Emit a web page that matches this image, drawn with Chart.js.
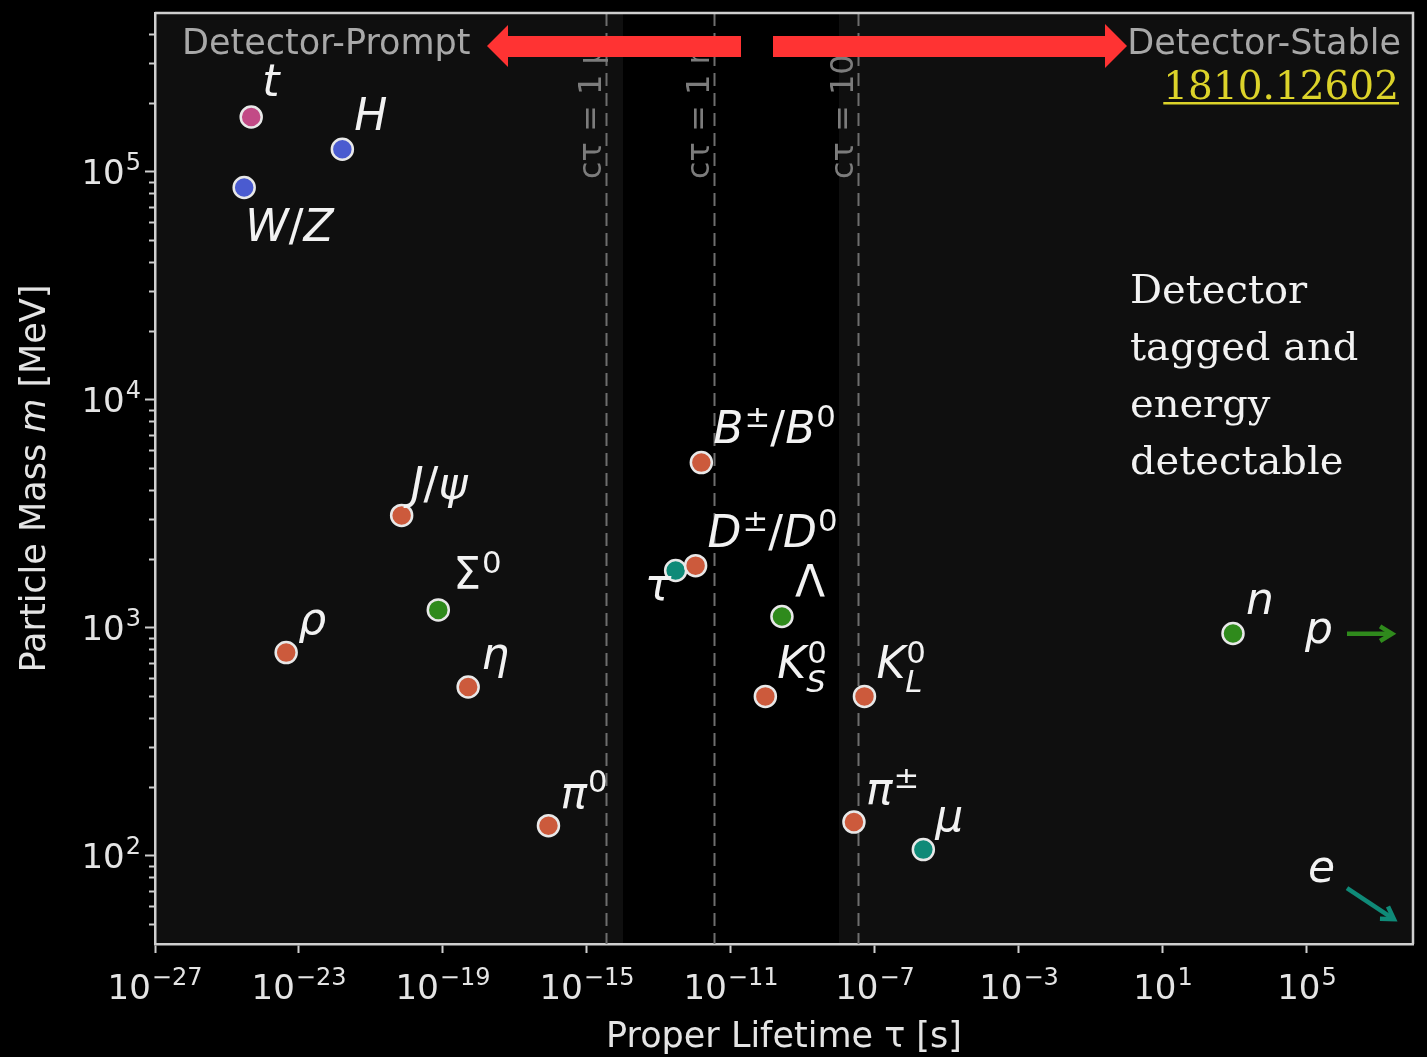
<!DOCTYPE html>
<html>
<head>
<meta charset="utf-8">
<script src="https://cdn.jsdelivr.net/npm/chart.js@4/dist/chart.umd.min.js"></script>
<style>
  html, body { margin: 0; padding: 0; background: #000; }
  canvas { display: block; }
</style>
</head>
<body>
<canvas id="chart" width="1427" height="1057"></canvas>
<script>
// Particle catalogue: proper lifetime (s) against mass (MeV)
const particles = ['t', 'H', 'W/Z', 'ρ', 'J/ψ', 'Σ^{0}', 'η', 'π^{0}', 'τ', 'D^{±}/D^{0}', 'B^{±}/B^{0}', 'Λ', 'K^{0}_{S}', 'K^{0}_{L}', 'π^{±}', 'μ', 'n'];
const lifetimes = [4.7e-25, 1.6e-22, 3.0e-25, 4.4e-24, 7.1e-21, 7.4e-20, 5.0e-19, 8.5e-17, 2.9e-13, 1.04e-12, 1.5e-12, 2.6e-10, 9.0e-11, 5.1e-8, 2.6e-8, 2.2e-6, 880];
const masses = [173000, 125000, 85000, 775, 3097, 1193, 548, 135, 1777, 1865, 5280, 1116, 498, 498, 140, 106, 940];
const families = ['top', 'boson', 'boson', 'meson', 'meson', 'baryon', 'meson', 'meson', 'lepton', 'meson', 'meson', 'baryon', 'meson', 'meson', 'meson', 'lepton', 'baryon'];

// Stable particles beyond the right edge of the axis
const offscaleNames = ['p', 'e'];
const offscaleFrom = [{ x: 1.29e6, y: 938 }, { x: 1.29e6, y: 71.8 }];
const offscaleTo = [{ x: 2.3e7, y: 938 }, { x: 2.6e7, y: 52.5 }];
const offscaleFamilies = ['baryon', 'lepton'];

// Axis ticks
const xTickValues = [1e-27, 1e-23, 1e-19, 1e-15, 1e-11, 1e-7, 1e-3, 1e1, 1e5];
const yTickValues = [1e2, 1e3, 1e4, 1e5];

// Decay-length reference lines (c·tau) and displaced-vertex band
const ctauValues = [3.336e-15, 3.336e-12, 3.336e-8];
const ctauLabels = ['cτ = 1 μm', 'cτ = 1 mm', 'cτ = 10 m'];
const displacedBand = [1e-14, 1e-8];

// ---- styling ----
const familyColors = {
  top: '#c24a86',
  boson: '#4a5bd0',
  meson: '#cc5a3c',
  baryon: '#2f8a1c',
  lepton: '#0f8a78'
};
// label placement relative to each marker (px: dx, baseline dy)
const labelOffsets = [
  [11, -21], [12, -19], [1, 54], [12, -19], [9, -16], [15, -21], [13, -18], [12, -18],
  [-31, 30], [12, -19], [12, -20], [13, -20], [12, -18], [12, -18], [12, -18], [12, -19], [13, -20]
];
const offscaleLabelOffsets = [[-42, 9], [-39, -6]];

const SANS = '"DejaVu Sans", "Liberation Sans", sans-serif';
const SERIF = '"DejaVu Serif", "Liberation Serif", serif';

// Draws math-style text: Latin / lowercase Greek italic, ^{..} superscript, _{..} subscript
function drawMath(ctx, spec, x, y, size, color) {
  const tokens = spec.match(/\^\{[^}]*\}|_\{[^}]*\}|[^^_]+/g) || [];
  const small = size * 0.7;
  let cx = x;
  ctx.fillStyle = color;
  ctx.textAlign = 'left';
  ctx.textBaseline = 'alphabetic';
  const runChars = (str, px, base, sz) => {
    let w = 0;
    for (const ch of str) {
      const it = /[A-Za-z\u03b1-\u03c9]/.test(ch);
      ctx.font = (it ? 'italic ' : '') + sz + 'px ' + SANS;
      ctx.fillText(ch, px + w, base);
      w += ctx.measureText(ch).width;
    }
    return w;
  };
  for (let i = 0; i < tokens.length; i++) {
    const tk = tokens[i];
    if (tk.startsWith('^{')) {
      const sup = tk.slice(2, -1);
      const next = tokens[i + 1];
      if (next && next.startsWith('_{')) {
        const sub = next.slice(2, -1);
        const w1 = runChars(sup, cx + 1, y - size * 0.36, small);
        const w2 = runChars(sub, cx, y + size * 0.3, small);
        cx += Math.max(w1, w2) + 1;
        i++;
      } else {
        cx += runChars(sup, cx + 1, y - size * 0.36, small) + 1;
      }
    } else if (tk.startsWith('_{')) {
      cx += runChars(tk.slice(2, -1), cx, y + size * 0.22, small);
    } else {
      cx += runChars(tk, cx, y, size);
    }
  }
}

// "10" with a raised exponent
function drawPower(ctx, value, x, y, align) {
  const exp = Math.round(Math.log10(value));
  const expStr = (exp < 0 ? '\u2212' : '') + Math.abs(exp);
  ctx.textBaseline = 'alphabetic';
  ctx.textAlign = 'left';
  ctx.font = '34px ' + SANS;
  const wBase = ctx.measureText('10').width;
  ctx.font = '24px ' + SANS;
  const wExp = ctx.measureText(expStr).width;
  const total = wBase + wExp + 1;
  let sx = align === 'center' ? x - total / 2 : x - total;
  ctx.fillStyle = '#e4e4e4';
  ctx.font = '34px ' + SANS;
  ctx.fillText('10', sx, y);
  ctx.font = '24px ' + SANS;
  ctx.fillText(expStr, sx + wBase + 1, y - 14);
}

function openArrow(ctx, x0, y0, x1, y1, color) {
  const ang = Math.atan2(y1 - y0, x1 - x0);
  const hl = 14, hw = 0.55;
  ctx.save();
  ctx.strokeStyle = color;
  ctx.lineWidth = 4.5;
  ctx.lineCap = 'butt';
  ctx.lineJoin = 'miter';
  ctx.beginPath();
  ctx.moveTo(x0, y0);
  ctx.lineTo(x1 - Math.cos(ang) * 2, y1 - Math.sin(ang) * 2);
  ctx.stroke();
  ctx.beginPath();
  ctx.moveTo(x1 - hl * Math.cos(ang - hw), y1 - hl * Math.sin(ang - hw));
  ctx.lineTo(x1, y1);
  ctx.lineTo(x1 - hl * Math.cos(ang + hw), y1 - hl * Math.sin(ang + hw));
  ctx.stroke();
  ctx.restore();
}

const decor = {
  id: 'decor',
  beforeDraw(chart) {
    const { ctx, chartArea: a } = chart;
    const xs = chart.scales.x;
    ctx.save();
    ctx.fillStyle = '#000';
    ctx.fillRect(0, 0, chart.width, chart.height);
    ctx.fillStyle = '#0f0f0f';
    ctx.fillRect(a.left, a.top, a.right - a.left, a.bottom - a.top);
    const b0 = xs.getPixelForValue(displacedBand[0]);
    const b1 = xs.getPixelForValue(displacedBand[1]);
    ctx.fillStyle = '#000';
    ctx.fillRect(b0, a.top, b1 - b0, a.bottom - a.top);
    ctx.restore();
  },
  beforeDatasetsDraw(chart) {
    const { ctx, chartArea: a } = chart;
    const xs = chart.scales.x;
    ctx.save();
    ctx.beginPath();
    ctx.rect(a.left, a.top, a.right - a.left, a.bottom - a.top);
    ctx.clip();
    ctauValues.forEach((v, i) => {
      const px = Math.round(xs.getPixelForValue(v)) + 0.5;
      ctx.strokeStyle = '#6e6e6e';
      ctx.lineWidth = 2;
      ctx.setLineDash([13, 7]);
      ctx.beginPath();
      ctx.moveTo(px, a.top);
      ctx.lineTo(px, a.bottom);
      ctx.stroke();
      ctx.setLineDash([]);
      ctx.save();
      ctx.beginPath();
      ctx.rect(a.left, 37, a.right - a.left, a.bottom - 37);
      ctx.clip();
      ctx.translate(px - 14, 179);
      ctx.rotate(-Math.PI / 2);
      ctx.font = '32px ' + SANS;
      ctx.fillStyle = '#7c7c7c';
      ctx.textAlign = 'left';
      ctx.textBaseline = 'middle';
      ctx.fillText(ctauLabels[i], 0, 0);
      ctx.restore();
    });
    ctx.restore();
  },
  afterDatasetsDraw(chart) {
    const { ctx } = chart;
    const xs = chart.scales.x, ys = chart.scales.y;
    ctx.save();
    particles.forEach((name, i) => {
      const px = xs.getPixelForValue(lifetimes[i]);
      const py = ys.getPixelForValue(masses[i]);
      drawMath(ctx, name, px + labelOffsets[i][0], py + labelOffsets[i][1], 44, '#f2f2f2');
    });
    offscaleNames.forEach((name, i) => {
      const x0 = xs.getPixelForValue(offscaleFrom[i].x), y0 = ys.getPixelForValue(offscaleFrom[i].y);
      const x1 = xs.getPixelForValue(offscaleTo[i].x), y1 = ys.getPixelForValue(offscaleTo[i].y);
      openArrow(ctx, x0, y0, x1, y1, familyColors[offscaleFamilies[i]]);
      drawMath(ctx, name, x0 + offscaleLabelOffsets[i][0], y0 + offscaleLabelOffsets[i][1], 44, '#f2f2f2');
    });
    ctx.restore();
  },
  afterDraw(chart) {
    const { ctx, chartArea: a } = chart;
    const xs = chart.scales.x, ys = chart.scales.y;
    ctx.save();
    // top and right frame lines
    ctx.strokeStyle = '#cfcfcf';
    ctx.lineWidth = 2.5;
    ctx.beginPath();
    ctx.moveTo(a.left, a.top);
    ctx.lineTo(a.right, a.top);
    ctx.lineTo(a.right, a.bottom);
    ctx.stroke();

    // minor log ticks on the mass axis
    ctx.strokeStyle = '#cfcfcf';
    ctx.lineWidth = 2;
    for (let d = 1; d <= 5; d++) {
      for (let k = 2; k <= 9; k++) {
        const v = k * Math.pow(10, d);
        if (v < ys.min || v > ys.max) continue;
        const py = Math.round(ys.getPixelForValue(v)) + 0.5;
        ctx.beginPath();
        ctx.moveTo(a.left, py);
        ctx.lineTo(a.left - 6, py);
        ctx.stroke();
      }
    }

    // tick labels
    xTickValues.forEach(v => drawPower(ctx, v, xs.getPixelForValue(v), 999, 'center'));
    yTickValues.forEach(v => drawPower(ctx, v, 141, ys.getPixelForValue(v) + 13, 'right'));

    // axis titles
    ctx.fillStyle = '#e4e4e4';
    ctx.textBaseline = 'alphabetic';
    ctx.textAlign = 'center';
    ctx.font = '35px ' + SANS;
    ctx.fillText('Proper Lifetime τ [s]', (a.left + a.right) / 2, 1047);

    ctx.save();
    ctx.translate(45, (a.top + a.bottom) / 2);
    ctx.rotate(-Math.PI / 2);
    const parts = [['Particle Mass ', ''], ['m', 'italic '], [' [MeV]', '']];
    let tw = 0;
    parts.forEach(p => { ctx.font = p[1] + '35px ' + SANS; tw += ctx.measureText(p[0]).width; });
    let cx = -tw / 2;
    ctx.textAlign = 'left';
    parts.forEach(p => { ctx.font = p[1] + '35px ' + SANS; ctx.fillText(p[0], cx, 0); cx += ctx.measureText(p[0]).width; });
    ctx.restore();

    // prompt / stable banner with arrows
    ctx.font = '35px ' + SANS;
    ctx.fillStyle = '#a8a8a8';
    ctx.textAlign = 'left';
    ctx.fillText('Detector-Prompt', 182, 54);
    ctx.textAlign = 'right';
    ctx.fillText('Detector-Stable', 1401, 54);

    ctx.fillStyle = '#ff3333';
    ctx.beginPath();
    ctx.moveTo(487, 46); ctx.lineTo(508, 25); ctx.lineTo(508, 36); ctx.lineTo(741, 36);
    ctx.lineTo(741, 57); ctx.lineTo(508, 57); ctx.lineTo(508, 67); ctx.closePath();
    ctx.fill();
    ctx.beginPath();
    ctx.moveTo(773, 36); ctx.lineTo(1105, 36); ctx.lineTo(1105, 24); ctx.lineTo(1127, 46);
    ctx.lineTo(1105, 68); ctx.lineTo(1105, 57); ctx.lineTo(773, 57); ctx.closePath();
    ctx.fill();

    // reference id
    ctx.font = '39px ' + SERIF;
    ctx.fillStyle = '#dcd32a';
    ctx.textAlign = 'right';
    ctx.fillText('1810.12602', 1399, 99);
    const lw = ctx.measureText('1810.12602').width;
    ctx.fillRect(1399 - lw, 102, lw, 2.5);

    // note on the stable region
    ctx.font = '40px ' + SERIF;
    ctx.fillStyle = '#f2f2f2';
    ctx.textAlign = 'left';
    ['Detector', 'tagged and', 'energy', 'detectable'].forEach((line, i) => {
      ctx.fillText(line, 1130, 303 + i * 57);
    });
    ctx.restore();
  }
};

new Chart(document.getElementById('chart'), {
  type: 'scatter',
  data: {
    datasets: [{
      data: lifetimes.map((t, i) => ({ x: t, y: masses[i] })),
      backgroundColor: families.map(f => familyColors[f]),
      borderColor: '#e8e8e8',
      borderWidth: 2.5,
      pointRadius: 10.5,
      pointHoverRadius: 10.5
    }]
  },
  options: {
    responsive: false,
    animation: false,
    devicePixelRatio: 1,
    events: [],
    layout: { padding: { left: 0, top: 9, right: 14, bottom: 0 } },
    plugins: { legend: { display: false }, tooltip: { enabled: false } },
    scales: {
      x: {
        type: 'logarithmic',
        position: 'bottom',
        min: 1e-27,
        max: 8.8e7,
        afterBuildTicks: s => { s.ticks = xTickValues.map(v => ({ value: v })); },
        afterFit: s => { s.height = 113; },
        ticks: { display: false },
        grid: { display: true, drawOnChartArea: false, drawTicks: true, tickLength: 9, tickColor: '#cfcfcf', tickWidth: 2 },
        border: { display: true, color: '#cfcfcf', width: 2.5 }
      },
      y: {
        type: 'logarithmic',
        position: 'left',
        min: 40.87,
        max: 4.948e5,
        afterBuildTicks: s => { s.ticks = yTickValues.map(v => ({ value: v })); },
        afterFit: s => { s.width = 155; },
        ticks: { display: false },
        grid: { display: true, drawOnChartArea: false, drawTicks: true, tickLength: 10, tickColor: '#cfcfcf', tickWidth: 2 },
        border: { display: true, color: '#cfcfcf', width: 2.5 }
      }
    }
  },
  plugins: [decor]
});
</script>
</body>
</html>
